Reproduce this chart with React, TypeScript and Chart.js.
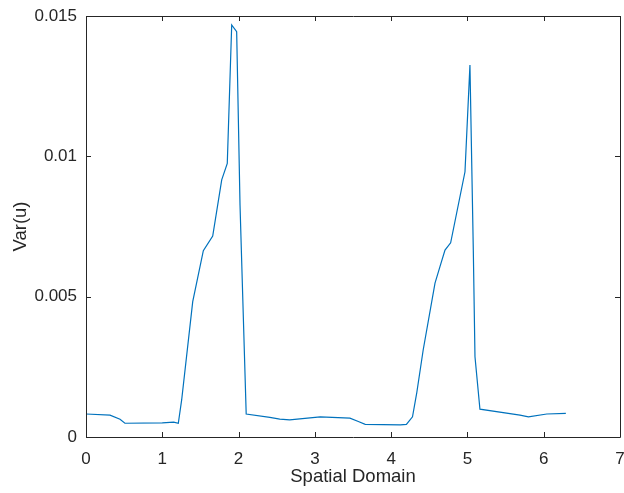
import React, { useEffect, useRef } from "react";
import { Chart, registerables } from "chart.js";

Chart.register(...registerables);

const xValues = [0, 0.315, 0.446, 0.51, 1.0, 1.15, 1.21, 1.254, 1.399, 1.538, 1.661, 1.779, 1.852, 1.91, 1.975, 2.019, 2.1, 2.41, 2.54, 2.67, 3.07, 3.46, 3.57, 3.66, 4.12, 4.2, 4.28, 4.335, 4.42, 4.575, 4.64, 4.706, 4.78, 4.968, 5.033, 5.077, 5.099, 5.164, 5.689, 5.8, 6.04, 6.29];
const varValues = [0.00082, 0.00078, 0.00063, 0.00049, 0.0005, 0.00053, 0.00049, 0.00132, 0.00482, 0.00664, 0.00716, 0.00916, 0.00975, 0.01468, 0.01444, 0.00827, 0.00082, 0.0007, 0.00064, 0.00061, 0.00072, 0.00067, 0.00055, 0.00045, 0.00043, 0.00045, 0.00072, 0.00156, 0.0031, 0.00548, 0.00607, 0.00666, 0.00692, 0.00945, 0.01325, 0.00666, 0.00286, 0.00099, 0.00078, 0.00072, 0.00082, 0.00084];
const xTicks = [0, 1, 2, 3, 4, 5, 6, 7];
const yTicks = [0, 0.005, 0.01, 0.015];

const AXIS_COLOR = "#262626";
const FONT = "'Liberation Sans', Arial, Helvetica, sans-serif";

const boxPlugin = {
  id: "matlabBox",
  afterDraw(chart: any) {
    const { ctx, chartArea } = chart;
    const { left, right, top, bottom } = chartArea;
    const xs = chart.scales.x;
    const ys = chart.scales.y;
    const tl = 5;
    ctx.save();
    ctx.strokeStyle = AXIS_COLOR;
    ctx.lineWidth = 1;
    ctx.beginPath();
    ctx.rect(Math.round(left) + 0.5, Math.round(top) + 0.5, Math.round(right - left), Math.round(bottom - top));
    ctx.stroke();
    ctx.beginPath();
    xTicks.forEach((v) => {
      const px = Math.round(xs.getPixelForValue(v)) + 0.5;
      ctx.moveTo(px, bottom);
      ctx.lineTo(px, bottom - tl);
      ctx.moveTo(px, top);
      ctx.lineTo(px, top + tl);
    });
    yTicks.forEach((v) => {
      const py = Math.round(ys.getPixelForValue(v)) + 0.5;
      ctx.moveTo(left, py);
      ctx.lineTo(left + tl, py);
      ctx.moveTo(right, py);
      ctx.lineTo(right - tl, py);
    });
    ctx.stroke();
    ctx.restore();
  },
};

export default function App() {
  const ref = useRef<HTMLCanvasElement>(null);
  useEffect(() => {
    if (!ref.current) return;
    const chart = new Chart(ref.current, {
      type: "scatter",
      data: {
        datasets: [
          {
            data: xValues.map((x, i) => ({ x, y: varValues[i] })),
            showLine: true,
            borderColor: "#0072BD",
            borderWidth: 1.2,
            pointRadius: 0,
            tension: 0,
          },
        ],
      },
      options: {
        animation: false,
        responsive: false,
        layout: { padding: { left: 0, top: 16, right: 4, bottom: 0 } },
        plugins: { legend: { display: false }, tooltip: { enabled: false } },
        scales: {
          x: {
            type: "linear",
            min: 0,
            max: 7,
            afterFit: (s: any) => { s.height = 56; s.paddingLeft = 0; s.paddingRight = 0; },
            afterBuildTicks: (s: any) => { s.ticks = xTicks.map((v) => ({ value: v })); },
            grid: { display: false },
            border: { display: false },
            ticks: { color: AXIS_COLOR, font: { family: FONT, size: 17 }, padding: 4, maxRotation: 0, callback: (v: any) => String(v) },
            title: { display: true, text: "Spatial Domain", color: AXIS_COLOR, font: { family: FONT, size: 18.5 }, padding: { top: 0, bottom: 5 } },
          },
          y: {
            type: "linear",
            min: 0,
            max: 0.015,
            afterFit: (s: any) => { s.width = 86; s.paddingTop = 0; s.paddingBottom = 0; },
            afterBuildTicks: (s: any) => { s.ticks = yTicks.map((v) => ({ value: v })); },
            grid: { display: false },
            border: { display: false },
            ticks: { color: AXIS_COLOR, font: { family: FONT, size: 17 }, padding: 1, callback: (v: any) => String(Number(Number(v).toFixed(4))) },
            title: { display: true, text: "Var(u)", color: AXIS_COLOR, font: { family: FONT, size: 18.5 }, padding: { top: 10, bottom: 0 } },
          },
        },
      },
      plugins: [boxPlugin],
    });
    return () => chart.destroy();
  }, []);
  return (
    <div style={{ position: "absolute", left: 0, top: 0, width: 624, height: 493, background: "#fff" }}>
      <canvas ref={ref} width={624} height={493} style={{ display: "block" }} />
    </div>
  );
}
